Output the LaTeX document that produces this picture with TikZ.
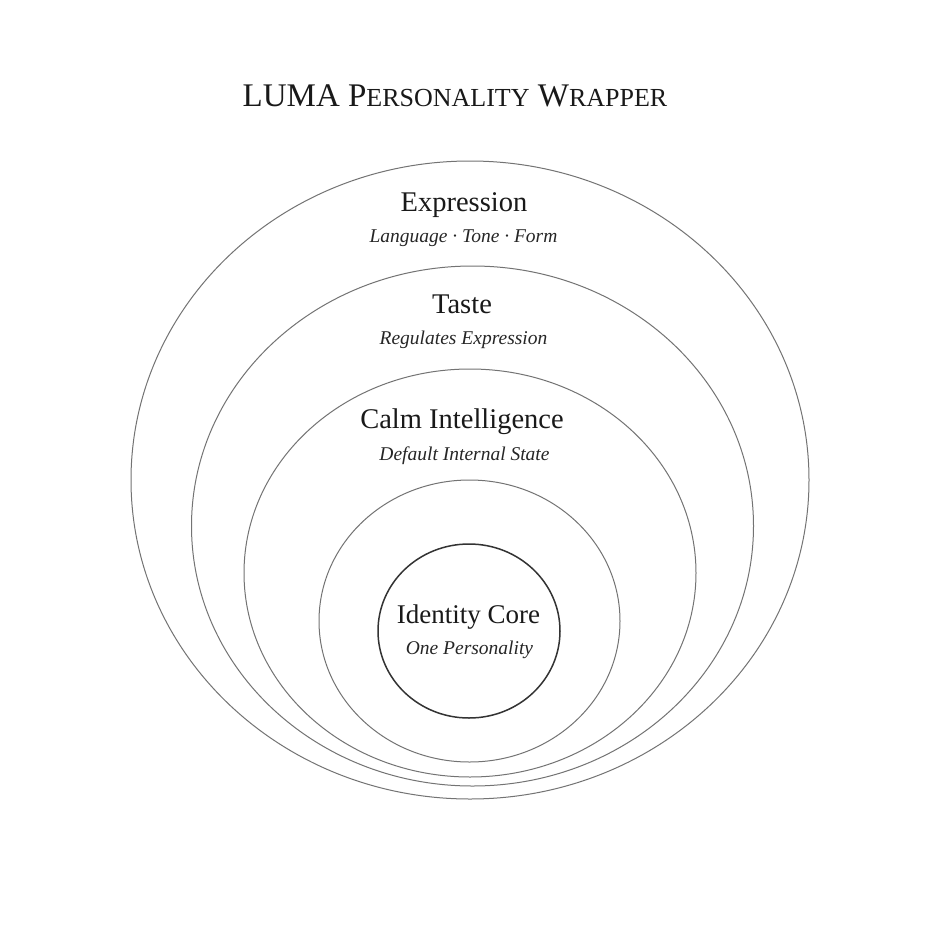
\documentclass[tikz,border=0pt]{standalone}
\usepackage{fontspec}
\setmainfont{Liberation Serif}
\usetikzlibrary{shapes.geometric}
\tikzset{
  ring/.style={ellipse, draw=black!55, line width=1pt, inner sep=0pt, fill=none},
  corering/.style={ellipse, draw=black!80, line width=1.5pt, inner sep=0pt},
  head/.style={anchor=base, inner sep=0pt, text=black!90, font=\fontsize{28.5}{30}\selectfont},
  sub/.style={anchor=base, inner sep=0pt, text=black!85, font=\fontsize{19.5}{21}\itshape},
  ttl/.style={anchor=base, inner sep=0pt, text=black!90, font=\fontsize{33}{35}\selectfont}
}
\newcommand{\fsc}[1]{{\fontsize{26}{28}\selectfont #1}}
\begin{document}
\begin{tikzpicture}[x=1pt,y=-1pt]
\useasboundingbox[fill=white] (0,0) rectangle (940,940);
% rings
\node[ring, minimum width=678pt, minimum height=638pt] (expr) at (470,480) {};
\node[ring, minimum width=562pt, minimum height=520pt] (taste) at (472.5,526) {};
\node[ring, minimum width=452pt, minimum height=408pt] (calm) at (470,573) {};
\node[ring, minimum width=301pt, minimum height=282pt] (inner) at (469.5,621) {};
\node[corering, minimum width=182pt, minimum height=174pt] (core) at (469,631) {};
% title
\node[ttl] (title) at (455,106) {LUMA P\fsc{ERSONALITY} W\fsc{RAPPER}};
% labels
\node[head] (exprT) at (464,211) {Expression};
\node[sub] (exprS) at (463.5,242) {Language · Tone · Form};
\node[head] (tasteT) at (462,313) {Taste};
\node[sub] (tasteS) at (463.5,344) {Regulates Expression};
\node[head] (calmT) at (462,428) {Calm Intelligence};
\node[sub] (calmS) at (464.5,460) {Default Internal State};
\node[head, font=\fontsize{27}{29}\selectfont] (coreT) at (468.5,623) {Identity Core};
\node[sub] (coreS) at (469.5,654) {One Personality};
\end{tikzpicture}
\end{document}
